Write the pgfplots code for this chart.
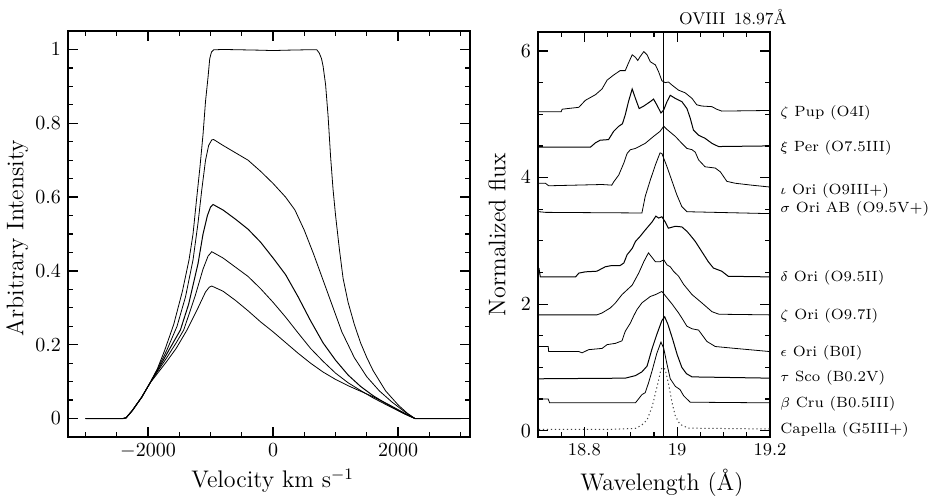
\documentclass[border=0pt]{standalone}
\usepackage{fontspec}
\usepackage{pgfplots}
\pgfplotsset{compat=1.18}
\begin{document}
\begin{tikzpicture}
\path[use as bounding box] (-34pt,-31pt) rectangle (431.5pt,218.5pt);
\pgfplotsset{every axis/.append style={
  scale only axis, axis line style={line width=0.9pt},
  major tick length=5pt, minor tick length=2.5pt,
  every tick/.style={black, line width=0.6pt},
  scaled x ticks=false, scaled y ticks=false,
  /pgf/number format/set thousands separator={},
  tick label style={font=\fontsize{10}{12}\selectfont},
  label style={font=\fontsize{12}{14}\selectfont},
  cycle list={{black, no markers, line width=0.5pt}},
}}
% ---------------- left panel ----------------
\begin{axis}[at={(0pt,0pt)}, anchor=south west, width=201pt, height=203pt,
  xmin=-3280, xmax=3150, ymin=-0.05, ymax=1.05,
  xtick={-2000,0,2000}, minor xtick={-3000,-2500,-1500,-1000,-500,500,1000,1500,2500,3000},
  ytick={0,0.2,0.4,0.6,0.8,1}, minor y tick num=3,
  xlabel={Velocity km s$^{-1}$}, ylabel={Arbitrary Intensity},
  xlabel style={at={(axis description cs:0.509,-0.108)}, anchor=center},
  ylabel style={at={(axis description cs:-0.126,0.49)}, anchor=center},
]
\addplot coordinates {(-3000,0) (-2400,0) (-2350,0.002) (-2250,0.022) (-2100,0.058) (-1973,0.095) (-1850,0.135) (-1733,0.185) (-1589,0.255) (-1450,0.345) (-1344,0.43) (-1280,0.50) (-1226,0.59) (-1170,0.68) (-1120,0.77) (-1080,0.86) (-1040,0.925) (-1013,0.975) (-985,0.993) (-950,0.999) (-800,1.0) (-500,0.999) (-200,0.998) (0,0.997) (200,0.998) (500,0.999) (700,0.999) (740,0.99) (775,0.975) (800,0.955) (840,0.905) (880,0.82) (920,0.71) (960,0.62) (1000,0.55) (1060,0.46) (1120,0.38) (1200,0.315) (1300,0.255) (1400,0.205) (1500,0.165) (1600,0.13) (1800,0.075) (2000,0.037) (2150,0.014) (2270,0) (3000,0)};
\addplot coordinates {(-3000,0) (-2400,0) (-2350,0.002) (-2250,0.022) (-2100,0.058) (-1973,0.095) (-1850,0.133) (-1700,0.185) (-1536,0.25) (-1400,0.33) (-1280,0.43) (-1200,0.53) (-1140,0.62) (-1080,0.70) (-1030,0.74) (-980,0.755) (-950,0.756) (-800,0.74) (-600,0.72) (-400,0.70) (-200,0.67) (0,0.637) (200,0.60) (350,0.565) (500,0.51) (650,0.445) (800,0.375) (950,0.305) (1100,0.235) (1300,0.165) (1500,0.113) (1700,0.075) (1900,0.045) (2100,0.019) (2270,0) (3000,0)};
\addplot coordinates {(-3000,0) (-2400,0) (-2350,0.002) (-2250,0.022) (-2100,0.058) (-1973,0.095) (-1850,0.13) (-1700,0.175) (-1482,0.24) (-1350,0.31) (-1200,0.42) (-1120,0.50) (-1050,0.55) (-1000,0.573) (-960,0.58) (-800,0.565) (-600,0.54) (-400,0.513) (-200,0.478) (0,0.435) (200,0.39) (400,0.33) (600,0.265) (800,0.205) (1000,0.158) (1200,0.118) (1400,0.087) (1600,0.062) (1850,0.036) (2100,0.013) (2270,0) (3000,0)};
\addplot coordinates {(-3000,0) (-2400,0) (-2350,0.002) (-2250,0.022) (-2100,0.058) (-1973,0.095) (-1850,0.127) (-1700,0.165) (-1550,0.205) (-1429,0.24) (-1250,0.33) (-1120,0.405) (-1040,0.44) (-980,0.452) (-800,0.435) (-600,0.41) (-400,0.385) (-200,0.352) (0,0.315) (200,0.275) (400,0.232) (600,0.19) (800,0.155) (1000,0.123) (1200,0.097) (1400,0.076) (1600,0.056) (1850,0.034) (2100,0.013) (2270,0) (3000,0)};
\addplot coordinates {(-3000,0) (-2400,0) (-2350,0.002) (-2250,0.022) (-2100,0.058) (-1973,0.095) (-1850,0.122) (-1700,0.155) (-1550,0.19) (-1376,0.24) (-1200,0.30) (-1080,0.343) (-1020,0.356) (-980,0.359) (-800,0.345) (-600,0.32) (-400,0.292) (-200,0.262) (0,0.235) (200,0.206) (400,0.177) (600,0.15) (800,0.126) (1000,0.106) (1200,0.089) (1400,0.074) (1600,0.059) (1850,0.038) (2100,0.015) (2270,0) (3000,0)};
\end{axis}
% ---------------- right panel ----------------
\begin{axis}[at={(235pt,0pt)}, anchor=south west, width=116pt, height=202.5pt,
  xmin=18.7, xmax=19.2, ymin=-0.1, ymax=6.3, clip=false,
  xtick={18.8,19,19.2}, minor xtick={18.7,18.75,18.85,18.9,18.95,19.05,19.1,19.15},
  ytick={0,2,4,6}, minor ytick={0.5,1,1.5,2.5,3,3.5,4.5,5,5.5},
  xticklabel style={font=\fontsize{9}{11}\selectfont},
  xlabel={Wavelength (Å)}, ylabel={Normalized flux},
  xlabel style={at={(axis description cs:0.534,-0.114)}, anchor=center},
  ylabel style={at={(axis description cs:-0.177,0.5)}, anchor=center},
]
\addplot[black, line width=0.6pt] coordinates {(18.97,-0.1) (18.97,6.3)};
% zeta Pup
\addplot coordinates {(18.702,5.04) (18.750,5.04) (18.752,5.08) (18.788,5.11) (18.802,5.22) (18.824,5.31) (18.838,5.40) (18.849,5.54) (18.863,5.62) (18.877,5.69) (18.888,5.69) (18.895,5.81) (18.903,5.94) (18.910,5.90) (18.915,5.85) (18.920,5.91) (18.928,5.99) (18.935,5.94) (18.942,5.83) (18.953,5.78) (18.960,5.67) (18.967,5.53) (18.974,5.50) (18.981,5.51) (18.989,5.46) (19.003,5.38) (19.017,5.34) (19.032,5.25) (19.042,5.15) (19.053,5.13) (19.075,5.12) (19.085,5.08) (19.096,5.05) (19.200,5.06)};
% xi Per
\addplot coordinates {(18.702,4.48) (18.813,4.48) (18.824,4.55) (18.834,4.59) (18.852,4.60) (18.863,4.73) (18.874,4.81) (18.882,4.85) (18.888,4.99) (18.895,5.20) (18.903,5.40) (18.910,5.25) (18.918,5.09) (18.928,5.13) (18.942,5.20) (18.949,5.24) (18.956,5.15) (18.965,5.02) (18.971,5.07) (18.978,5.20) (18.985,5.30) (18.996,5.25) (19.010,5.20) (19.021,5.09) (19.028,4.94) (19.035,4.75) (19.046,4.67) (19.060,4.62) (19.075,4.54) (19.089,4.49) (19.200,4.50)};
% iota Ori
\addplot coordinates {(18.702,3.91) (18.716,3.91) (18.723,3.87) (18.838,3.89) (18.859,3.88) (18.863,3.93) (18.874,4.04) (18.885,4.23) (18.892,4.38) (18.899,4.44) (18.910,4.46) (18.931,4.54) (18.949,4.65) (18.963,4.73) (18.971,4.81) (18.978,4.76) (18.996,4.65) (19.010,4.54) (19.021,4.46) (19.032,4.44) (19.039,4.40) (19.046,4.28) (19.060,4.17) (19.082,4.15) (19.093,4.09) (19.107,3.94) (19.125,3.91) (19.160,3.88) (19.200,3.85)};
% sigma Ori AB
\addplot coordinates {(18.702,3.46) (18.716,3.45) (18.924,3.44) (18.931,3.70) (18.942,3.96) (18.953,4.20) (18.963,4.39) (18.967,4.38) (18.978,4.17) (18.989,3.94) (18.999,3.73) (19.010,3.54) (19.021,3.46) (19.200,3.43)};
% delta Ori
\addplot coordinates {(18.702,2.57) (18.705,2.43) (18.781,2.43) (18.788,2.49) (18.802,2.51) (18.827,2.52) (18.845,2.59) (18.859,2.61) (18.877,2.61) (18.885,2.65) (18.892,2.78) (18.903,2.88) (18.910,2.99) (18.920,3.07) (18.931,3.17) (18.946,3.30) (18.954,3.39) (18.960,3.36) (18.967,3.38) (18.974,3.30) (18.981,3.20) (18.996,3.23) (19.010,3.22) (19.021,3.15) (19.028,3.09) (19.039,2.99) (19.053,2.83) (19.067,2.67) (19.078,2.57) (19.096,2.52) (19.110,2.44) (19.200,2.43)};
% zeta Ori
\addplot coordinates {(18.702,1.83) (18.827,1.83) (18.838,1.86) (18.856,1.94) (18.867,2.02) (18.881,2.15) (18.903,2.30) (18.917,2.49) (18.928,2.67) (18.938,2.81) (18.953,2.67) (18.963,2.67) (18.971,2.70) (18.978,2.62) (18.985,2.59) (18.992,2.52) (19.003,2.44) (19.014,2.31) (19.032,2.15) (19.053,2.02) (19.075,1.88) (19.090,1.84) (19.200,1.83)};
% epsilon Ori
\addplot coordinates {(18.702,1.33) (18.722,1.33) (18.723,1.25) (18.788,1.25) (18.795,1.23) (18.809,1.28) (18.838,1.30) (18.849,1.36) (18.867,1.38) (18.881,1.42) (18.888,1.57) (18.899,1.70) (18.906,1.81) (18.913,1.91) (18.924,2.02) (18.942,2.12) (18.953,2.15) (18.967,2.20) (18.978,2.10) (18.989,2.00) (19.003,1.86) (19.010,1.78) (19.021,1.65) (19.032,1.61) (19.046,1.59) (19.053,1.52) (19.064,1.41) (19.082,1.33) (19.125,1.30) (19.200,1.25)};
% tau Sco
\addplot coordinates {(18.702,0.82) (18.888,0.83) (18.910,0.87) (18.924,0.93) (18.935,1.02) (18.946,1.30) (18.956,1.52) (18.967,1.74) (18.973,1.80) (18.980,1.68) (18.990,1.45) (19.000,1.20) (19.010,1.00) (19.020,0.90) (19.032,0.85) (19.200,0.83)};
% beta Cru
\addplot coordinates {(18.702,0.50) (18.722,0.50) (18.725,0.44) (18.910,0.44) (18.924,0.57) (18.931,0.60) (18.938,0.75) (18.946,0.95) (18.956,1.22) (18.965,1.40) (18.971,1.30) (18.978,1.05) (18.985,0.82) (18.996,0.70) (19.006,0.65) (19.014,0.55) (19.028,0.45) (19.200,0.44)};
% Capella
\addplot[black!75, line width=0.5pt, dash pattern=on 0.6pt off 1.4pt] coordinates {(18.702,0.02) (18.850,0.02) (18.910,0.035) (18.924,0.09) (18.935,0.17) (18.946,0.38) (18.953,0.59) (18.960,0.80) (18.965,0.97) (18.969,1.00) (18.974,0.97) (18.981,0.75) (18.989,0.44) (18.996,0.23) (19.006,0.10) (19.024,0.04) (19.200,0.027)};
\begin{scope}[every node/.style={anchor=west, font=\fontsize{7.4}{9}\selectfont, xshift=5pt, inner sep=0pt}]
\node at (axis cs:19.2,5.02) {$\zeta$ Pup (O4I)};
\node at (axis cs:19.2,4.47) {$\xi$ Per (O7.5III)};
\node at (axis cs:19.2,3.79) {$\iota$ Ori (O9III+)};
\node at (axis cs:19.2,3.50) {$\sigma$ Ori AB (O9.5V+)};
\node at (axis cs:19.2,2.41) {$\delta$ Ori (O9.5II)};
\node at (axis cs:19.2,1.82) {$\zeta$ Ori (O9.7I)};
\node at (axis cs:19.2,1.23) {$\epsilon$ Ori (B0I)};
\node at (axis cs:19.2,0.83) {$\tau$ Sco (B0.2V)};
\node at (axis cs:19.2,0.43) {$\beta$ Cru (B0.5III)};
\node at (axis cs:19.2,0.02) {Capella (G5III+)};
\end{scope}
\end{axis}
\node[font=\fontsize{8.5}{10}\selectfont] at (332.5pt,209.75pt) {OVIII\hspace{0.5em}18.97Å};
\end{tikzpicture}
\end{document}
